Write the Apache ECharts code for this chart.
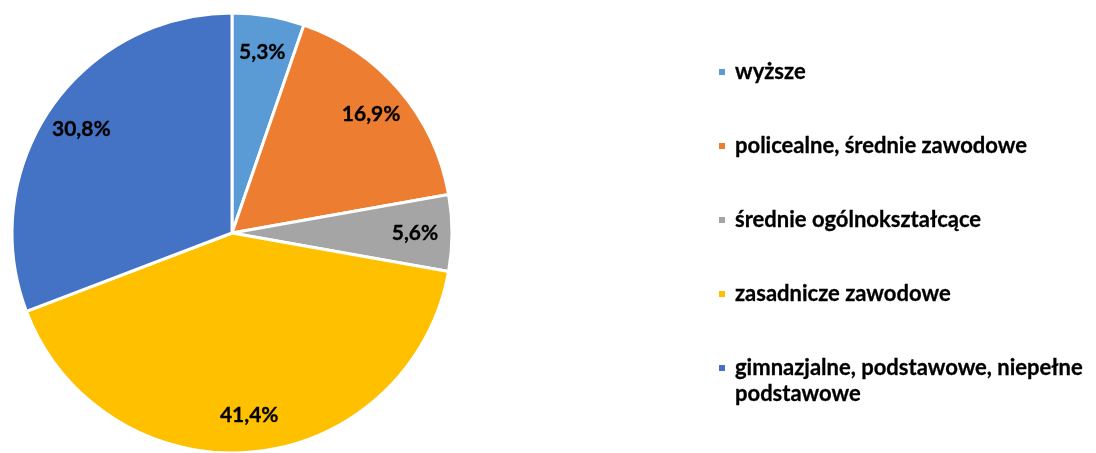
<!DOCTYPE html>
<html>
<head>
<meta charset="utf-8">
<script src="https://cdn.jsdelivr.net/npm/echarts@6/dist/echarts.min.js"></script>
<style>
  html, body { margin: 0; padding: 0; background: #fff; }
  #chart { width: 1096px; height: 453px; }
</style>
</head>
<body>
<div id="chart"></div>
<script>
const categories = [
  'wyższe',
  'policealne, średnie zawodowe',
  'średnie ogólnokształcące',
  'zasadnicze zawodowe',
  'gimnazjalne, podstawowe, niepełne podstawowe'
]
const shares = [5.3, 16.9, 5.6, 41.4, 30.8]
const colors = ['#5B9BD5', '#ED7D31', '#A5A5A5', '#FFC000', '#4472C4']

const FONT = 'Lato'
const legendText = {
  fontFamily: FONT,
  fontWeight: 'bold',
  fontSize: 22,
  lineHeight: 26,
  color: '#000',
  textBorderColor: '#000',
  textBorderWidth: 0.3,
  padding: [0, 0, 0, 4]
}

const pieData = categories.map((name, i) => ({
  name,
  value: shares[i],
  itemStyle: { color: colors[i] }
}))

const chart = echarts.init(document.getElementById('chart'), null, { renderer: 'canvas' })

chart.setOption({
  animation: false,
  legend: [
    {
      orient: 'vertical',
      left: 717,
      top: 59,
      padding: 0,
      itemWidth: 8,
      itemHeight: 8,
      itemGap: 48,
      icon: 'rect',
      selectedMode: false,
      textStyle: legendText,
      data: categories.slice(0, 4)
    },
    {
      // last entry wraps onto two lines, the square stays on the first line
      orient: 'vertical',
      left: 717,
      top: 355,
      padding: 0,
      itemWidth: 8,
      itemHeight: 34,
      icon: 'path://M0,0L8,0L8,8L0,8Z M4,33.99L4.01,33.99L4.01,34L4,34Z',
      selectedMode: false,
      textStyle: legendText,
      formatter: () => 'gimnazjalne, podstawowe, niepełne\npodstawowe',
      data: categories.slice(4)
    }
  ],
  series: [
    {
      type: 'pie',
      center: [232, 233],
      radius: [0, 220],
      startAngle: 90,
      clockwise: true,
      silent: true,
      label: { show: false },
      labelLine: { show: false },
      itemStyle: { borderColor: '#fff', borderWidth: 3 },
      data: pieData
    },
    {
      // transparent ring used only to place the percentage labels
      type: 'pie',
      center: [232, 233],
      radius: [140, 220],
      startAngle: 90,
      clockwise: true,
      silent: true,
      legendHoverLink: false,
      itemStyle: { color: 'rgba(0,0,0,0)', borderWidth: 0 },
      label: {
        show: true,
        position: 'inside',
        formatter: (p) => p.value.toFixed(1).replace('.', ',') + '%',
        fontFamily: FONT,
        fontWeight: 'bold',
        fontSize: 21,
        color: '#000',
        textBorderColor: '#000',
        textBorderWidth: 0.3
      },
      labelLine: { show: false },
      data: categories.map((name, i) => ({ name: name + ' ', value: shares[i] }))
    }
  ]
})
</script>
</body>
</html>
